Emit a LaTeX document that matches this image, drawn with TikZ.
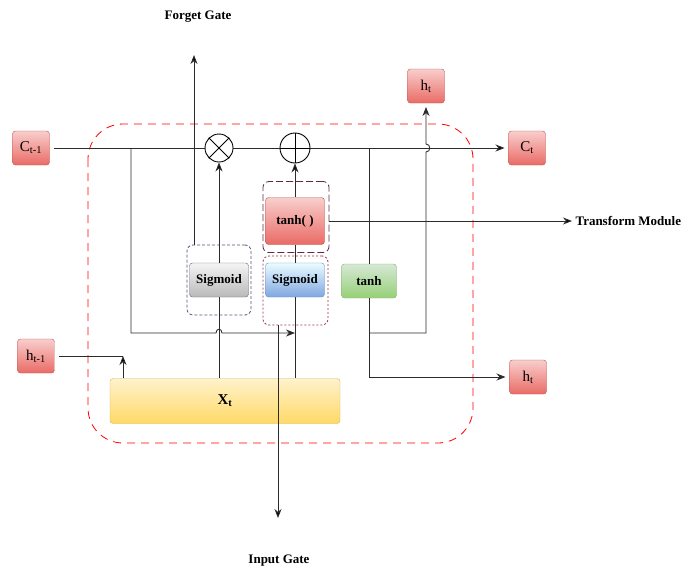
\documentclass[tikz,border=0pt]{standalone}
\usepackage{fontspec}
\setmainfont{Liberation Serif}
\usepackage{xcolor}
\usepackage{tikz}
\usetikzlibrary{arrows.meta,shapes}

\definecolor{redstroke}{HTML}{B85450}
\definecolor{redtop}{HTML}{F8CECC}
\definecolor{redbot}{HTML}{EA6B66}
\definecolor{greystroke}{HTML}{666666}
\definecolor{bluestroke}{HTML}{6C8EBF}
\definecolor{greenstroke}{HTML}{82B366}
\definecolor{yellowstroke}{HTML}{D6B656}
\definecolor{fgdash}{HTML}{56517E}
\definecolor{tdash}{HTML}{5E2A48}
\definecolor{idash}{HTML}{9A3340}
\definecolor{wire}{HTML}{2B2B2B}

\begin{document}
\begin{tikzpicture}[x=1pt,y=-1pt,>={Stealth[length=9pt,width=7pt]},
	wire/.style={draw=wire,line width=0.9pt},
	redbox/.style={draw=redstroke,rounded corners=3pt,top color=redtop,bottom color=redbot,
		minimum width=37pt,minimum height=34pt,inner sep=1pt,outer sep=4pt,
		font=\fontsize{15}{17}\selectfont},
	cellbox/.style={rounded corners=3pt,minimum width=59pt,minimum height=34pt,inner sep=1pt,
		font=\fontsize{13}{15}\selectfont\bfseries},
	dashbox/.style={rounded corners=6pt,line width=0.8pt,inner sep=0pt},
	lab/.style={font=\fontsize{13}{15}\selectfont\bfseries}]
	\useasboundingbox (0,0) rectangle (693,568);
	% outer cell border
	\draw[red,line width=0.8pt,dash pattern=on 8pt off 6pt,rounded corners=35pt]
	(88,124) rectangle (473,443);
	%
	\node[redbox] (cprev) at (31,148) {C\textsubscript{t-1}};
	\node[redbox] (ct) at (527,148) {C\textsubscript{t}};
	\node[redbox] (htop) at (426,86) {h\textsubscript{t}};
	\node[redbox] (hprev) at (36,356) {h\textsubscript{t-1}};
	\node[redbox] (hout) at (528,377) {h\textsubscript{t}};
	%
	\node[circle,draw,line width=0.9pt,minimum size=28pt,inner sep=0pt] (mul) at (219,148) {};
	\node[circle,draw,line width=0.9pt,minimum size=30pt,inner sep=0pt] (add) at (295,148) {};
	\draw[line width=0.9pt] (mul.north west) -- (mul.south east) (mul.north east) -- (mul.south west);
	\draw[line width=0.9pt] (add.north) -- (add.south) (add.west) -- (add.east);
	%
	\node[cellbox,draw=greystroke,top color=gray!8,bottom color=gray!55] (sigf) at (219,280) {Sigmoid};
	\node[cellbox,draw=bluestroke,top color={blue!10!cyan!8},bottom color={rgb,255:red,126;green,166;blue,224}] (sigi) at (295,280) {Sigmoid};
	\node[cellbox,draw=redstroke,top color=redtop,bottom color=redbot,minimum height=47pt] (tanhc) at (295,221) {tanh( )};
	\node[cellbox,draw=greenstroke,top color={rgb,255:red,213;green,232;blue,212},bottom color={rgb,255:red,151;green,208;blue,119},minimum width=55pt] (tanho) at (369,281) {tanh};
	\node[cellbox,draw=yellowstroke,top color={rgb,255:red,255;green,242;blue,204},bottom color={rgb,255:red,255;green,217;blue,102},minimum width=230pt,minimum height=45pt,font=\fontsize{15}{17}\selectfont\bfseries] (xt) at (225,401) {X\textsubscript{t}};
	%
	\node[dashbox,draw=fgdash,dash pattern=on 3pt off 2pt,minimum width=64pt,minimum height=70pt] (fgbox) at (219,280) {};
	\node[dashbox,draw=tdash,dash pattern=on 7pt off 3pt,minimum width=66pt,minimum height=71pt] (tbox) at (296,217) {};
	\node[dashbox,draw=idash,dash pattern=on 2pt off 2pt,minimum width=65pt,minimum height=69pt] (ibox) at (295.5,290.5) {};
	%
	\node[lab] (fglab) at (198,17) {Forget Gate};
	\node[lab] (iglab) at (279,561) {Input Gate};
	%
	\coordinate (fgtop) at (194,245);
	\coordinate (fgout) at (194,55);
	\coordinate (igtop) at (278,325);
	\coordinate (igout) at (278,518);
	\coordinate (tmin) at (329,221);
	\coordinate (tmout) at (572,221);
	\coordinate (hjoin) at (123,356);
	\coordinate (cdown) at (131,148);
	\coordinate (ccorner) at (131,333);
	\coordinate (hsplit) at (369,333);
	%
	\path[wire]
	(add) edge[->] (ct)
	(sigf) edge[->] (mul)
	(tanhc) edge[->] (add)
	(fgtop) edge[->] (fgout)
	(hjoin |- xt.north) edge[->] (hjoin)
	(tmin) edge[->] (tmout)
	(igtop) edge[->] (igout)
	(cprev) edge (mul)
	(mul) edge (add)
	(sigi) edge (tanhc)
	(hprev) edge (hjoin)
	(sigf.south) edge (sigf.south |- xt.north)
	(sigi.south) edge (sigi.south |- xt.north)
	(cprev -| tanho) edge (tanho);
	%
	\draw[wire,->] (cdown) -- (ccorner) -- (216,333)
	.. controls (216,328) and (222,328) .. (222,333) -- (sigi.south |- ccorner);
	\draw[wire,->] (hsplit) -- (426,333) -- (426,152)
	.. controls (431,152) and (431,144) .. (426,144) -- (htop);
	\draw[wire,->] (tanho.south) -- (tanho.south |- hout) -- (hout);
	%
	\node[lab,right] (tmlab) at (tmout) {Transform Module};
\end{tikzpicture}
\end{document}
